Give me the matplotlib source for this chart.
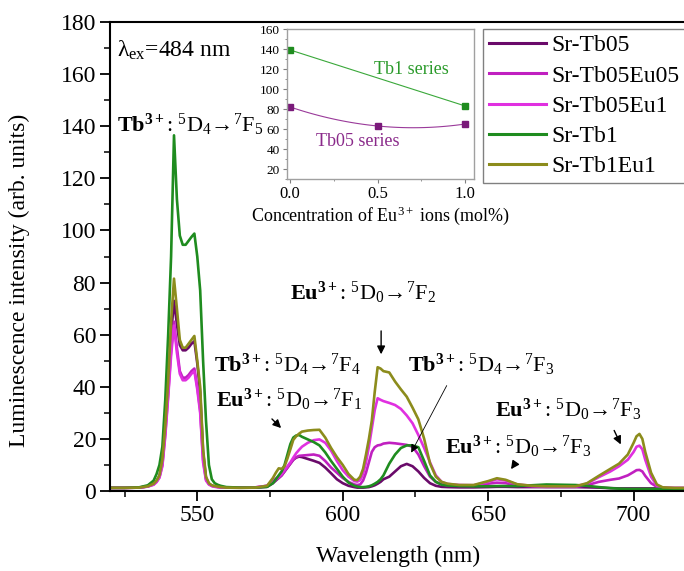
import numpy as np
import matplotlib
matplotlib.use("Agg")
import matplotlib.pyplot as plt

plt.rcParams['font.family'] = ['Liberation Serif', 'DejaVu Serif']
plt.rcParams['mathtext.fontset'] = 'custom'
plt.rcParams['mathtext.rm'] = 'Liberation Serif'
plt.rcParams['mathtext.it'] = 'Liberation Serif:italic'
plt.rcParams['mathtext.bf'] = 'Liberation Serif:bold'

# wavelength grid (nm) shared by all spectra
wavelength = [520, 525, 530, 533, 535, 536, 537, 538, 539, 540, 541, 542, 543, 544, 545,
              546, 547, 548, 549, 550, 551, 552, 553, 554, 555, 556, 557, 558, 560,
              565, 570, 574, 576, 577, 578, 579, 580, 581, 582, 583, 584, 585, 586, 588,
              590, 592, 594, 596, 598, 600, 602, 604, 605, 606, 607, 608, 609, 610, 611,
              612, 613, 614, 616, 618, 620, 622, 624, 626, 628, 630, 632, 634, 636, 640,
              645, 650, 653, 656, 660, 665, 670, 675, 680, 684, 688, 692, 695, 698, 700,
              701, 702, 703, 704, 706, 708, 710, 714, 720]

sr_tb05 = [1.2, 1.2, 1.3, 1.8, 2.7, 3.8, 5.8, 11, 24, 40, 60, 73, 64, 56, 54,
           54, 55, 56.5, 57.5, 49, 38, 15, 5, 2.8, 2, 1.8, 1.6, 1.5, 1.3,
           1.3, 1.3, 1.6, 3, 4, 5, 6, 7.5, 9, 10.5, 12, 12.8, 13.2, 13, 12.3,
           11.6, 10.8, 9, 6.8, 4.5, 3, 2, 1.5, 1.3, 1.3, 1.3, 1.4, 1.5, 1.8, 2.2,
           2.8, 3.5, 4.5, 5.5, 7.5, 9.5, 10.4, 9.5, 7.5, 5, 3, 2, 1.6, 1.5, 1.4,
           1.4, 1.5, 1.6, 1.6, 1.5, 1.5, 1.5, 1.5, 1.5, 1.4, 1.3, 1.1, 1, 1, 1,
           1, 1, 1, 1, 1, 1, 1, 1, 1]

sr_tb05eu05 = [1.2, 1.2, 1.3, 1.7, 2.5, 3.5, 5.3, 10, 22, 37, 54, 65, 55, 46, 43.5,
               43.5, 44.5, 46, 47, 40, 31, 12, 4.5, 2.6, 2, 1.7, 1.5, 1.4, 1.3,
               1.3, 1.4, 2, 3.5, 4.2, 5, 6, 7.5, 9, 10.5, 12, 13, 13.5, 13.6, 13.8,
               14, 13.5, 11.5, 9, 7, 5, 3.5, 2.5, 2.3, 2.5, 4, 7, 11, 15, 16.8,
               17.5, 17.7, 18.2, 18.5, 18.3, 18, 17.7, 17, 14, 9.5, 5.5, 3.5, 2.6, 2.2, 2,
               2, 2.8, 3.2, 3, 2.2, 1.8, 1.6, 1.6, 1.6, 2.2, 3.5, 4.3, 4.8, 6, 7.3,
               8, 8.1, 7.5, 5.8, 3, 1.6, 1.2, 1.1, 1.1]

sr_tb05eu1 = [1.2, 1.2, 1.3, 1.7, 2.4, 3.4, 5.1, 9.5, 21, 36, 52, 63.5, 53, 45, 42.5,
              42.5, 43.5, 45, 46, 39, 30, 11, 4, 2.5, 1.9, 1.6, 1.5, 1.4, 1.3,
              1.3, 1.4, 2, 4, 4.8, 5.5, 6.5, 8, 9.5, 11, 12.8, 14.5, 15.8, 17, 18.5,
              19.5, 19.8, 18.5, 15.5, 11.5, 8, 5.5, 3.8, 3.6, 4.2, 6.5, 11, 17, 24, 31,
              35.6, 35, 34.5, 33.8, 33, 31.5, 29, 26, 21.5, 16.5, 11, 6, 3.5, 2.7, 2.3,
              2.2, 3.5, 4.5, 4, 2.5, 2, 1.8, 1.8, 1.8, 2.8, 5.3, 7.5, 9.5, 12, 15,
              17, 17.4, 16, 12, 5.5, 2, 1.3, 1.2, 1.2]

sr_tb1 = [1.2, 1.2, 1.4, 2.2, 4, 6.5, 10, 17, 35, 60, 90, 136.5, 112, 98, 94.5,
          94.5, 96, 97.5, 98.8, 90, 77, 50, 27, 10, 4.5, 3, 2.4, 2, 1.5,
          1.3, 1.3, 1.6, 3, 4.5, 6, 7.5, 10, 14, 18, 20.5, 21.3, 21.5, 20.8, 19.8,
          18.8, 17.5, 14.8, 11.5, 8.5, 5.5, 3.2, 2, 1.7, 1.5, 1.5, 1.6, 1.8, 2.2, 2.8,
          3.5, 4.5, 6, 10.5, 14, 16.5, 17.5, 17.5, 16.8, 11.5, 6, 3.5, 2.4, 2.1, 1.9,
          1.8, 1.8, 1.9, 1.9, 1.9, 2.2, 2.5, 2.4, 2.3, 2, 1.5, 1.1, 0.9, 0.8, 0.8,
          0.8, 0.8, 0.8, 0.8, 0.8, 0.8, 0.8, 0.8, 0.8]

sr_tb1eu1 = [1.2, 1.2, 1.3, 1.8, 2.8, 4, 6, 12, 25, 42, 65, 81.5, 70, 58, 55,
             55, 56.5, 58, 59.5, 50, 40, 16, 5.5, 3, 2.2, 1.9, 1.7, 1.5, 1.3,
             1.2, 1.3, 2, 5, 7, 8.7, 8.5, 9.5, 12.5, 16, 19.6, 21, 22, 22.8, 23.2,
             23.4, 23.5, 20.5, 16.5, 13, 10, 6.5, 4.3, 4.2, 5.5, 8.5, 14, 20, 27, 38,
             47.5, 47, 46, 45.5, 42, 39, 36.2, 32, 27.5, 20, 10.6, 5.5, 3.5, 2.8, 2.3,
             2.3, 3.8, 4.9, 4.3, 2.6, 2, 1.8, 1.8, 1.8, 3, 5.8, 8.5, 10.5, 14, 18.5,
             21, 21.9, 20, 15, 7, 2.5, 1.4, 1.2, 1.2]

labels = ['Sr-Tb05', 'Sr-Tb05Eu05', 'Sr-Tb05Eu1', 'Sr-Tb1', 'Sr-Tb1Eu1']
colors = ['#6a0a6a', '#c020c0', '#e030e0', '#1f8c1f', '#8c8c1c']

# inset: 5D4->7F5 peak intensity vs Eu concentration
tb1_conc = [0.0, 1.0]
tb1_peak = [139, 83]
tb05_conc = [0.0, 0.5, 1.0]
tb05_peak = [82, 63, 65]

fig = plt.figure(figsize=(6.84, 5.71), dpi=100)
ax = fig.add_axes([110 / 684, 80 / 571, 581.8 / 684, 469 / 571])

series = [sr_tb05, sr_tb05eu05, sr_tb05eu1, sr_tb1, sr_tb1eu1]
for y, lab, c in zip(series, labels, colors):
    ax.plot(wavelength, y, color=c, lw=1.9, label=lab)

ax.set_xlim(520, 720)
ax.set_ylim(0, 180)
ax.set_xticks([550, 600, 650, 700])
ax.set_xticks([525, 575, 625, 675], minor=True)
ax.set_yticks(range(0, 181, 20))
ax.set_yticks(range(10, 180, 20), minor=True)
ax.tick_params(which='major', direction='out', length=7, width=1.3, labelsize=17, pad=3)
ax.tick_params(which='minor', direction='out', length=4, width=1.1)
for s in ax.spines.values():
    s.set_linewidth(1.5)

ax.set_xlabel('Wavelength (nm)', fontsize=17)
ax.xaxis.set_label_coords(0.495, -0.117)
ax.set_ylabel('Luminescence intensity (arb. units)', fontsize=17)
ax.yaxis.set_label_coords(-0.1375, 0.45)

leg = ax.legend(loc='upper left', bbox_to_anchor=(483 / 684, 1 - 29 / 571),
                bbox_transform=fig.transFigure, fontsize=17, handlelength=2.4,
                handletextpad=0.25, labelspacing=0.37, borderpad=0.25,
                borderaxespad=0, fancybox=False, framealpha=1)
leg.get_frame().set_edgecolor('#808080')
for line in leg.get_lines():
    line.set_linewidth(2.2)

# transition labels
fs = 16
tb = r'$\mathbf{Tb^{3+}}$: '
eu = r'$\mathbf{Eu^{3+}}$: '
ax.text(522.4, 169.2, r'λ$_{\mathrm{ex}}$=484 nm', fontsize=17, va='center')
ax.text(522.4, 140.4, tb + '$^5$D$_4$→$^7$F$_5$', fontsize=fs, va='center')
ax.text(581.9, 76, eu + '$^5$D$_0$→$^7$F$_2$', fontsize=fs, va='center')
ax.text(555.8, 48.3, tb + '$^5$D$_4$→$^7$F$_4$', fontsize=fs, va='center')
ax.text(556.4, 34.9, eu + '$^5$D$_0$→$^7$F$_1$', fontsize=fs, va='center')
ax.text(622.4, 48.3, tb + '$^5$D$_4$→$^7$F$_3$', fontsize=fs, va='center')
ax.text(635.2, 16.9, eu + '$^5$D$_0$→$^7$F$_3$', fontsize=fs, va='center')
ax.text(652.3, 31.1, eu + '$^5$D$_0$→$^7$F$_3$', fontsize=fs, va='center')

arrow = dict(arrowstyle='-|>', color='black', lw=1.0, mutation_scale=12)
ax.annotate('', xy=(613.2, 51.4), xytext=(613.2, 62.5), arrowprops=arrow)
ax.annotate('', xy=(579.5, 23.4), xytext=(575.0, 28.4), arrowprops=arrow)
ax.annotate('', xy=(623.1, 13.8), xytext=(636.2, 41.4),
            arrowprops=dict(arrowstyle='-|>', color='black', lw=0.6, mutation_scale=12))
ax.annotate('', xy=(657.3, 7.5), xytext=(659.5, 11.0), arrowprops=arrow)
ax.annotate('', xy=(696.0, 16.9), xytext=(692.9, 24.2), arrowprops=arrow)

# inset
ins = fig.add_axes([286.7 / 684, 392 / 571, 187.3 / 684, 150 / 571])
xf = np.linspace(0, 1, 100)
ins.plot(xf, np.polyval(np.polyfit(tb1_conc, tb1_peak, 1), xf), color='#3aa83a', lw=0.8)
ins.plot(xf, np.polyval(np.polyfit(tb05_conc, tb05_peak, 2), xf), color='#9a3a9a', lw=0.8)
ins.plot(tb1_conc, tb1_peak, 's', color='#1f8c1f', ms=5, ls='none')
ins.plot(tb05_conc, tb05_peak, 's', color='#7a1a7a', ms=5, ls='none')
ins.set_xlim(-0.02, 1.05)
ins.set_ylim(10, 160)
ins.set_xticks([0.0, 0.5, 1.0])
ins.set_xticklabels(['0.0', '0.5', '1.0'])
ins.set_xticks([0.25, 0.75], minor=True)
ins.set_yticks(range(20, 161, 20))
ins.set_yticks(range(10, 160, 20), minor=True)
ins.tick_params(which='major', direction='out', length=3, width=0.8, color='#808080', pad=2)
ins.tick_params(axis='x', labelsize=12)
ins.tick_params(axis='y', labelsize=9.5)
ins.tick_params(which='minor', direction='out', length=1.5, width=0.6, color='#808080')
for s in ins.spines.values():
    s.set_color('#a0a0a0')
    s.set_linewidth(1.0)
ins.set_xlabel(r'Concentration of Eu$^{3+}$ ions (mol%)', fontsize=13, labelpad=2)
ins.text(0.48, 120, 'Tb1 series', color='#2a9a2a', fontsize=13, va='center')
ins.text(0.15, 48, 'Tb05 series', color='#8a2a8a', fontsize=13, va='center')

fig.savefig('out.png', dpi=100)
